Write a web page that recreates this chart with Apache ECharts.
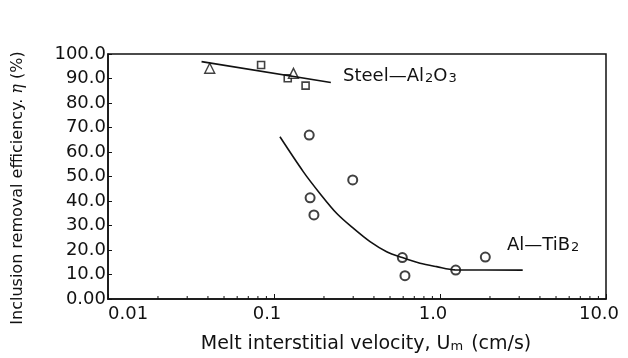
<!DOCTYPE html>
<html>
<head>
<meta charset="utf-8">
<script src="https://cdn.jsdelivr.net/npm/echarts@6/dist/echarts.min.js"></script>
<style>
html, body { margin: 0; padding: 0; background: #fff; }
#main { width: 628px; height: 358px; }
</style>
</head>
<body>
<div id="main"></div>
<script>
// values (x: cm/s, y: %)
var steelSquares = [[0.0836, 95.5], [0.121, 90.1], [0.155, 87.1]];
var steelTriangles = [[0.041, 94.2], [0.131, 92.1]];
var steelFit = [[0.0366, 96.9], [0.220, 88.4]];
var alCircles = [[0.163, 66.9], [0.165, 41.3], [0.174, 34.3], [0.298, 48.6],
                 [0.593, 16.9], [0.615, 9.5], [1.244, 11.8], [1.875, 17.1]];
var alFit = [[0.1086, 66.2], [0.150, 52.0], [0.189, 43.1], [0.239, 34.9],
             [0.300, 28.9], [0.379, 23.4], [0.477, 19.3], [0.593, 16.9],
             [0.758, 14.6], [0.955, 13.2], [1.23, 11.9], [3.15, 11.8]];
var minorTicks = [0.02, 0.03, 0.04, 0.05, 0.06, 0.07, 0.08, 0.09,
                  0.2, 0.3, 0.4, 0.5, 0.6, 0.7, 0.8, 0.9,
                  2, 3, 4, 5, 6, 7, 8, 9];

var font = '"DejaVu Sans", "Liberation Sans", Arial, sans-serif';
var myChart = echarts.init(document.getElementById('main'));

var subStyle = { fontSize: 13, fontFamily: font, fill: '#111', padding: [6, 0, 0, 1] };

var option = {
    animation: false,
    backgroundColor: '#fff',
    textStyle: { fontFamily: font, color: '#111' },
    grid: {
        left: 108, top: 54, right: 22, bottom: 59,
        show: true, borderColor: '#111', borderWidth: 1.5, backgroundColor: 'transparent'
    },
    xAxis: {
        type: 'log',
        logBase: 10,
        min: 0.01,
        max: 10,
        axisLine: { lineStyle: { color: '#111', width: 1.5 } },
        axisTick: { inside: true, length: 5, lineStyle: { color: '#111' } },
        splitLine: { show: false },
        axisLabel: {
            fontSize: 18, color: '#111', margin: 6,
            padding: [0, 14, 0, 0],
            alignMinLabel: 'left',
            formatter: function (v) {
                if (v < 0.05) return '0.01';
                if (v < 0.5) return '0.1';
                if (v < 5) return '1.0';
                return '10.0';
            }
        }
    },
    yAxis: {
        type: 'value',
        min: 0,
        max: 100,
        interval: 10,
        axisLine: { show: true, lineStyle: { color: '#111', width: 1.5 } },
        axisTick: { show: true, inside: true, length: 4, lineStyle: { color: '#111' } },
        splitLine: { show: false },
        axisLabel: {
            fontSize: 18, color: '#111', margin: 2,
            formatter: function (v) { return v === 0 ? '0.00' : v.toFixed(1); }
        }
    },
    graphic: [
        {
            type: 'text', x: 18, y: 188, rotation: Math.PI / 2,
            style: {
                text: 'Inclusion removal efficiency. {i|η} (%)', font: '16px ' + font, fill: '#111',
                align: 'center', verticalAlign: 'middle',
                rich: { i: { fontSize: 16, fontStyle: 'italic', fontFamily: 'DejaVu Serif', fill: '#111' } }
            }
        },
        {
            type: 'text', x: 366, y: 344,
            style: {
                text: 'Melt interstitial velocity, U{m|m} (cm/s)', font: '19px ' + font, fill: '#111',
                align: 'center', verticalAlign: 'middle',
                rich: { m: { fontSize: 13, fontFamily: font, fill: '#111', padding: [5, 2, 0, 0] } }
            }
        },
        {
            type: 'text', left: 343, top: 67,
            style: {
                text: 'Steel—Al{sub|2}O{sub|3}', font: '18px ' + font, fill: '#111',
                rich: { sub: subStyle }
            }
        },
        {
            type: 'text', left: 507, top: 236,
            style: {
                text: 'Al—TiB{sub|2}', font: '18px ' + font, fill: '#111',
                rich: { sub: subStyle }
            }
        }
    ],
    series: [
        {
            type: 'line', data: steelFit, symbol: 'none',
            lineStyle: { color: '#111', width: 1.6 }
        },
        {
            type: 'line', data: alFit, symbol: 'none', smooth: 0.3,
            lineStyle: { color: '#111', width: 1.6 }
        },
        {
            type: 'scatter', data: steelSquares, symbol: 'rect', symbolSize: 7,
            itemStyle: { color: '#fff', borderColor: '#111', borderWidth: 1.6 }
        },
        {
            type: 'scatter', data: steelTriangles, symbol: 'triangle', symbolSize: 10,
            itemStyle: { color: '#fff', borderColor: '#111', borderWidth: 1.4 }
        },
        {
            type: 'scatter', data: alCircles, symbol: 'circle', symbolSize: 9,
            itemStyle: { color: '#fff', borderColor: '#111', borderWidth: 2 }
        },
        {
            type: 'custom',
            silent: true,
            data: minorTicks.map(function (v) { return [v, 0]; }),
            renderItem: function (params, api) {
                var p = api.coord([api.value(0), 0]);
                return {
                    type: 'line',
                    shape: { x1: p[0], y1: p[1], x2: p[0], y2: p[1] - 3 },
                    style: { stroke: '#111', lineWidth: 1 }
                };
            }
        }
    ]
};
myChart.setOption(option);
</script>
</body>
</html>
